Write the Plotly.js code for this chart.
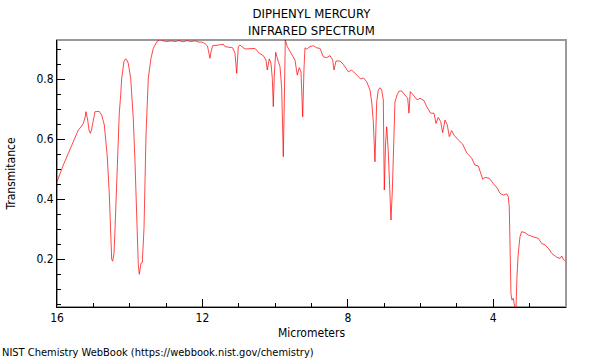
<!DOCTYPE html>
<html>
<head>
<meta charset="utf-8">
<script src="https://cdn.plot.ly/plotly-3.0.1.min.js"></script>
<style>html,body{margin:0;padding:0;background:#fff;}#chart{width:600px;height:360px;}</style>
</head>
<body>
<div id="chart"></div>
<script>
// Wavelength (micrometers) and transmittance
const wavelength = [
16.000,15.917,15.827,15.689,15.552,15.414,15.340,15.277,15.230,15.203,
15.156,15.120,15.084,15.051,15.018,14.955,14.837,14.771,14.699,14.652,
14.617,14.562,14.523,14.496,14.468,14.432,14.405,14.378,14.331,14.287,
14.248,14.221,14.158,14.111,14.075,14.039,13.973,13.902,13.855,13.808,
13.764,13.736,13.709,13.690,13.654,13.635,13.607,13.552,13.489,13.415,
13.351,13.258,13.167,13.076,12.975,12.865,12.755,12.645,12.535,12.425,
12.315,12.205,12.095,12.013,11.930,11.861,11.820,11.792,11.765,11.718,
11.572,11.426,11.380,11.168,11.105,11.058,11.013,10.967,10.829,10.692,
10.554,10.436,10.326,10.252,10.216,10.161,10.114,10.078,10.051,10.023,
9.985,9.913,9.866,9.820,9.776,9.748,9.721,9.666,9.545,9.454,
9.391,9.336,9.289,9.242,9.206,9.179,9.132,9.041,8.950,8.857,
8.766,8.675,8.582,8.491,8.417,8.381,8.326,8.216,8.125,7.988,
7.894,7.804,7.713,7.647,7.575,7.482,7.391,7.344,7.300,7.254,
7.207,7.163,7.116,7.069,7.025,6.998,6.960,6.932,6.888,6.841,
6.814,6.778,6.750,6.704,6.641,6.586,6.520,6.456,6.401,6.355,
6.319,6.283,6.217,6.154,6.091,6.016,5.906,5.832,5.722,5.631,
5.576,5.513,5.447,5.392,5.329,5.265,5.210,5.144,5.081,4.963,
4.842,4.732,4.594,4.503,4.412,4.346,4.291,4.228,4.110,4.000,
3.890,3.816,3.725,3.632,3.588,3.560,3.541,3.514,3.486,3.450,
3.412,3.376,3.349,3.313,3.266,3.220,3.129,3.037,2.900,2.762,
2.669,2.578,2.487,2.393,2.256,2.165,2.118,2.073,2.027
];
const transmittance = [
0.457,0.487,0.513,0.552,0.588,0.630,0.640,0.652,0.670,0.691,
0.663,0.630,0.619,0.630,0.652,0.691,0.692,0.680,0.647,0.597,
0.541,0.419,0.286,0.199,0.193,0.219,0.297,0.397,0.587,0.686,
0.747,0.802,0.858,0.867,0.863,0.852,0.802,0.669,0.524,0.313,
0.180,0.149,0.170,0.186,0.188,0.230,0.302,0.613,0.802,0.869,
0.902,0.924,0.932,0.927,0.925,0.927,0.925,0.928,0.924,0.928,
0.925,0.927,0.923,0.923,0.918,0.910,0.890,0.869,0.890,0.911,
0.913,0.916,0.908,0.904,0.886,0.819,0.908,0.913,0.900,0.900,
0.902,0.886,0.878,0.863,0.830,0.867,0.852,0.802,0.708,0.813,
0.889,0.858,0.841,0.769,0.541,0.724,0.930,0.908,0.880,0.863,
0.813,0.838,0.824,0.674,0.836,0.904,0.900,0.908,0.911,0.904,
0.902,0.874,0.871,0.878,0.863,0.830,0.860,0.860,0.849,0.824,
0.830,0.819,0.811,0.800,0.804,0.791,0.763,0.724,0.658,0.524,
0.724,0.763,0.771,0.763,0.730,0.430,0.591,0.641,0.558,0.391,
0.330,0.424,0.558,0.724,0.749,0.760,0.760,0.752,0.744,0.736,
0.686,0.758,0.749,0.741,0.730,0.736,0.728,0.708,0.686,0.686,
0.652,0.672,0.658,0.621,0.663,0.647,0.608,0.628,0.613,0.597,
0.583,0.554,0.536,0.513,0.510,0.486,0.466,0.472,0.469,0.452,
0.436,0.419,0.413,0.417,0.408,0.374,0.241,0.085,0.063,0.069,
0.041,0.033,0.141,0.219,0.274,0.291,0.288,0.280,0.274,0.269,
0.252,0.247,0.236,0.219,0.206,0.202,0.210,0.199,0.194
];
const xTicks = [16, 12, 8, 4];
const yTicks = [0.2, 0.4, 0.6, 0.8];
const xRange = [16, 2];
const yRange = [0.04, 0.93];

const FONT = 'DejaVu Sans Condensed, DejaVu Sans, sans-serif';

const trace = {
  x: wavelength,
  y: transmittance,
  type: 'scatter',
  mode: 'lines',
  line: {color: 'rgba(255,0,0,0.72)', width: 1},
  hoverinfo: 'x+y',
  showlegend: false
};

const layout = {
  width: 600,
  height: 360,
  margin: {l: 57, r: 34, t: 40, b: 53},
  paper_bgcolor: '#ffffff',
  plot_bgcolor: '#ffffff',
  font: {family: FONT, size: 11, color: '#000'},
  title: {
    text: 'DIPHENYL MERCURY<br>INFRARED SPECTRUM',
    font: {family: FONT, size: 13, color: '#000'},
    x: 0.519, xanchor: 'center',
    y: 0.950, yanchor: 'middle'
  },
  xaxis: {
    range: xRange,
    tickvals: xTicks,
    ticktext: xTicks.map(String),
    ticks: 'inside',
    ticklen: 8,
    tickcolor: '#000',
    tickwidth: 1,
    minor: {dtick: 1, ticks: 'inside', ticklen: 4, tickcolor: '#000'},
    showline: true,
    linecolor: '#000',
    linewidth: 1,
    showgrid: false,
    zeroline: false,
    tickfont: {family: FONT, size: 12},
    title: {text: 'Micrometers', font: {family: FONT, size: 12}, standoff: 4}
  },
  yaxis: {
    range: yRange,
    tickvals: yTicks,
    ticktext: yTicks.map(v => v.toFixed(1)),
    ticks: 'inside',
    ticklen: 8,
    tickcolor: '#000',
    tickwidth: 1,
    minor: {dtick: 0.05, tick0: 0, ticks: 'inside', ticklen: 4, tickcolor: '#000'},
    showline: true,
    linecolor: '#000',
    linewidth: 1,
    showgrid: false,
    zeroline: false,
    tickfont: {family: FONT, size: 12},
    title: {text: 'Transmitance', font: {family: FONT, size: 12}, standoff: 18}
  },
  shapes: [{
    type: 'rect', xref: 'paper', yref: 'paper',
    x0: 0, x1: 1, y0: 0, y1: 1,
    line: {color: '#999999', width: 2},
    layer: 'below'
  }],
  annotations: [{
    text: 'NIST Chemistry WebBook (https://webbook.nist.gov/chemistry)',
    xref: 'paper', yref: 'paper',
    x: -57/509, y: -45/267,
    xanchor: 'left', yanchor: 'middle',
    showarrow: false,
    font: {family: FONT, size: 11, color: '#000'}
  }]
};

Plotly.newPlot('chart', [trace], layout, {displayModeBar: false, staticPlot: true});
</script>
</body>
</html>
